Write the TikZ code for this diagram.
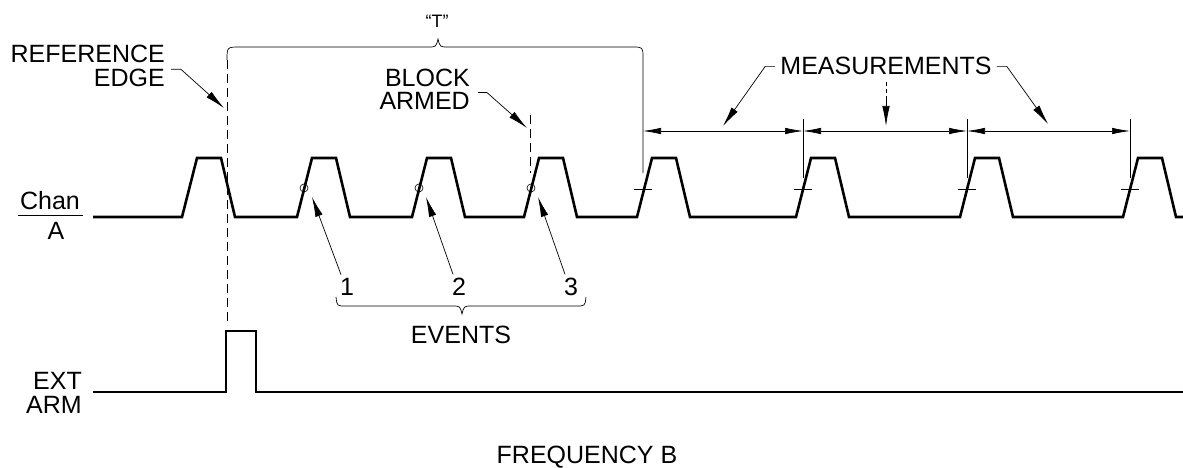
\documentclass[tikz,border=0pt]{standalone}
\usepackage{fontspec}
\setmainfont{Liberation Sans}[Ligatures=TeX]
\usetikzlibrary{arrows.meta}
\begin{document}
\begin{tikzpicture}[x=1pt,y=-1pt,
  sig/.style={line width=2.6pt, line join=miter},
  thinln/.style={line width=0.7pt},
  lab/.style={inner sep=0pt, font=\fontsize{25}{25}\selectfont},
  smalllab/.style={inner sep=0pt, font=\fontsize{18}{18}\selectfont},
  dashv/.style={line width=0.9pt, dash pattern=on 9pt off 5pt},
  tipped/.style={line width=0.7pt, -{Latex[length=20pt,width=7.5pt]}},
  dimln/.style={line width=0.7pt, {Latex[length=18pt,width=6.5pt]}-{Latex[length=18pt,width=6.5pt]}},
  evc/.style={circle, draw, line width=0.6pt, inner sep=0pt, minimum size=8pt},
]
\useasboundingbox (0,0) rectangle (1183,468);

% ---- Chan A signal ----
\draw[sig] (93,217) \foreach \r in {182,297,412,524,637,796,960,1123} { -- (\r,217) -- (\r+15,158) -- (\r+39,158) -- (\r+53,217) } -- (1183,217);

% ---- EXT ARM signal ----
\draw[sig] (93,392) -- (226,392) -- (226,331) -- (256,331) -- (256,392) -- (1183,392);

% ---- labels left ----
\node[lab, anchor=base] (chan) at (50,209) {Chan};
\draw[thinln] (18,215) -- (83,215);
\node[lab, anchor=base] (chA) at (56,239) {A};
\node[lab, anchor=base east] (ext) at (82,389) {EXT};
\node[lab, anchor=base east] (arm) at (82,413) {ARM};

% ---- reference edge ----
\node[lab, anchor=base east] (ref) at (165,63) {REFERENCE};
\node[lab, anchor=base east] (edge) at (165,87) {EDGE};
\coordinate (reftip) at (224,108);
\draw[tipped] ([xshift=6pt]edge.north east) -- ([xshift=16pt]edge.north east) -- (reftip);
\draw[dashv] (227,60) -- (227,323);

% ---- "T" brace ----
\draw[thinln] (227,60) .. controls (227,47) .. (240,47) -- (428,47) .. controls (436,47) .. (438,39) .. controls (440,47) .. (448,47) -- (632,47) .. controls (643,47) .. (643,58) -- (643,173);
\node[smalllab, anchor=base] (T) at (437,28) {``T''};

% ---- block armed ----
\node[lab, anchor=base east] (block) at (470,87) {BLOCK};
\node[lab, anchor=base east] (armed) at (470,110) {ARMED};
\coordinate (batip) at (527,128);
\draw[tipped] ([xshift=8pt]armed.north east) -- ([xshift=17pt]armed.north east) -- (batip);
\draw[dashv] (530,115) -- (530,173);

% ---- events ----
\node[evc] (e1) at (304,188) {};
\node[evc] (e2) at (419,188) {};
\node[evc] (e3) at (531,188) {};
\node[lab, anchor=base] (n1) at (347,295) {1};
\node[lab, anchor=base] (n2) at (459,295) {2};
\node[lab, anchor=base] (n3) at (571,295) {3};
\draw[tipped] ([xshift=-6pt,yshift=3pt]n1.north) -- ([shift={(8pt,-9pt)}]e1.center);
\draw[tipped] ([xshift=-6pt,yshift=3pt]n2.north) -- ([shift={(7pt,-9pt)}]e2.center);
\draw[tipped] ([xshift=-6pt,yshift=3pt]n3.north) -- ([shift={(7pt,-9pt)}]e3.center);
\draw[thinln] (336,297) .. controls (337,306) .. (346,306) -- (452,306) .. controls (460,306) .. (462,314) .. controls (464,306) .. (472,306) -- (576,306) .. controls (585,306) .. (586,297);
\node[lab, anchor=base] (events) at (461,343) {EVENTS};

% ---- measurements ----
\node[lab, anchor=base] (meas) at (886,75) {MEASUREMENTS};
\coordinate (m1tip) at (723,126);
\coordinate (m2tip) at (886,126);
\coordinate (m3tip) at (1048,124);
\draw[tipped] ([xshift=-5pt]meas.west) -- ([xshift=-15pt]meas.west) -- (m1tip);
\draw[line width=0.7pt, dash pattern=on 4pt off 3pt] ([yshift=-7pt]meas.south) -- (886,102);
\draw[tipped] (886,100) -- (m2tip);
\draw[tipped] ([xshift=5pt]meas.east) -- ([xshift=15pt]meas.east) -- (m3tip);
\foreach \x in {803,967,1130} \draw[thinln] (\x,119) -- (\x,178);
\foreach \x in {643,803,967,1130} \draw[thinln] (\x-9,189) -- (\x+9,189);
\draw[dimln] (643,131) -- (803,131);
\draw[dimln] (803,131) -- (967,131);
\draw[dimln] (967,131) -- (1130,131);

% ---- title ----
\node[lab, anchor=base] (title) at (587,463) {FREQUENCY B};
\end{tikzpicture}
\end{document}
